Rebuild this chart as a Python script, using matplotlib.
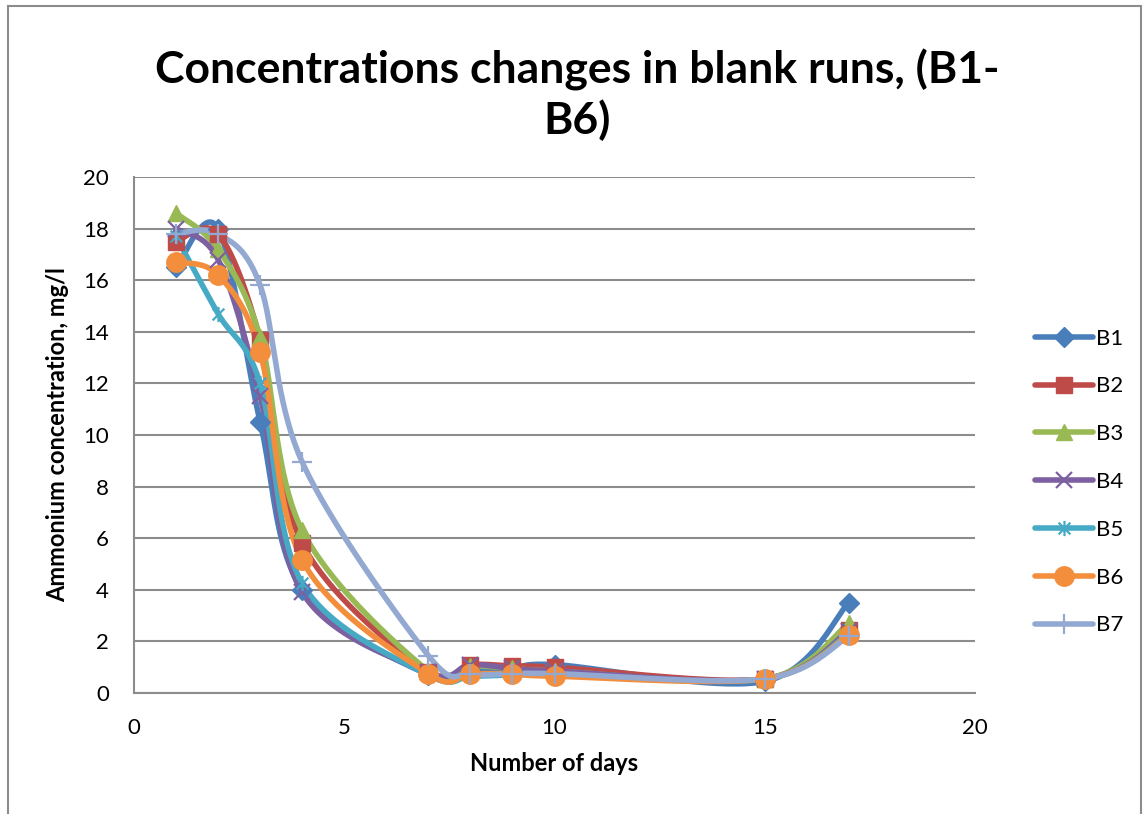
import numpy as np
import matplotlib
matplotlib.use("Agg")
import matplotlib.pyplot as plt
from matplotlib.path import Path
from matplotlib.patches import Rectangle
from matplotlib.lines import Line2D

plt.rcParams['font.family'] = ['Lato', 'DejaVu Sans']

# Sampling days and ammonium concentration (mg/l) for each blank run
days = [1, 2, 3, 4, 7, 8, 9, 10, 15, 17]
B1 = [16.5, 18.0, 10.5, 4.0, 0.7, 0.9, 0.9, 1.1, 0.45, 3.5]
B2 = [17.5, 17.8, 13.7, 5.8, 0.8, 1.1, 1.05, 1.0, 0.55, 2.45]
B3 = [18.6, 17.2, 13.8, 6.3, 0.85, 1.05, 0.95, 0.85, 0.55, 2.7]
B4 = [18.0, 16.8, 11.5, 3.9, 0.8, 1.1, 0.95, 0.85, 0.55, 2.4]
B5 = [17.7, 14.7, 12.0, 4.25, 0.7, 0.65, 0.7, 0.7, 0.55, 2.3]
B6 = [16.7, 16.2, 13.2, 5.15, 0.75, 0.75, 0.75, 0.65, 0.55, 2.25]
B7 = [17.8, 17.8, 15.8, 8.95, 1.45, 0.75, 0.75, 0.75, 0.55, 2.2]

series_names = ['B1', 'B2', 'B3', 'B4', 'B5', 'B6', 'B7']
series_values = [B1, B2, B3, B4, B5, B6, B7]

x_ticks = [0, 5, 10, 15, 20]
y_ticks = [0, 2, 4, 6, 8, 10, 12, 14, 16, 18, 20]

colors = ['#4A7EBB', '#BE4B48', '#98B954', '#7D60A0', '#46AAC5', '#F38E3D', '#93A9D1']

# asterisk marker: an x with a vertical stroke
star_path = Path([(-1, -1), (1, 1), (-1, 1), (1, -1), (0, -1.3), (0, 1.3)],
                 [Path.MOVETO, Path.LINETO] * 3)
markers = ['D', 's', '^', 'x', star_path, 'o', '+']
msizes = [10, 11, 12, 11, 11, 14, 14]
medge = [None, None, None, 1.6, 1.6, None, 1.6]


def smooth(xs, ys, n=40):
    """Cubic Bezier smoothing through the points (Catmull-Rom style)."""
    p = np.column_stack([xs, ys]).astype(float)
    out = [p[0]]
    m = len(p)
    for i in range(m - 1):
        p0 = p[i - 1] if i > 0 else p[i]
        p1 = p[i]
        p2 = p[i + 1]
        p3 = p[i + 2] if i + 2 < m else p[i + 1]
        c1 = p1 + (p2 - p0) / 6.0
        c2 = p2 - (p3 - p1) / 6.0
        t = np.linspace(0, 1, n)[1:, None]
        seg = ((1 - t) ** 3) * p1 + 3 * ((1 - t) ** 2) * t * c1 \
            + 3 * (1 - t) * t ** 2 * c2 + t ** 3 * p2
        out.extend(seg)
    out = np.array(out)
    return out[:, 0], out[:, 1]


fig = plt.figure(figsize=(11.44, 8.14), dpi=100)
ax = fig.add_axes([134 / 1144, 1 - 693 / 814, (975 - 134) / 1144, (693 - 177) / 814])

# outer chart border
fig.patches.append(Rectangle((8 / 1144, -0.02), 1133 / 1144, 1 - 6 / 814 + 0.02,
                             transform=fig.transFigure, fill=False,
                             edgecolor='#8c8c8c', linewidth=1.5))

handles = []
for name, vals, c, mk, ms, me in zip(series_names, series_values, colors,
                                       markers, msizes, medge):
    sx, sy = smooth(days, vals)
    ax.plot(sx, sy, color=c, linewidth=4, solid_capstyle='round', zorder=2)
    kw = dict(marker=mk, markersize=ms, color=c, linestyle='none', zorder=3)
    if me is not None:
        kw.update(markeredgewidth=me, markeredgecolor=c)
    else:
        kw.update(markeredgecolor=c, markerfacecolor=c)
    ax.plot(days, vals, **kw)
    handles.append(Line2D([], [], color=c, linewidth=4, solid_capstyle='round',
                          marker=mk, markersize=ms,
                          markeredgewidth=me if me else 1.0,
                          markeredgecolor=c, markerfacecolor=c, label=name))

ax.set_xlim(0, 20)
ax.set_ylim(0, 20)
ax.set_xticks(x_ticks)
ax.set_yticks(y_ticks)
ax.tick_params(length=0, labelsize=16)
ax.tick_params(axis='y', pad=18)
ax.tick_params(axis='x', pad=18)
ax.grid(axis='y', color='#8c8c8c', linewidth=1.5)
ax.set_axisbelow(True)
for s in ['top', 'right']:
    ax.spines[s].set_visible(False)
for s in ['left', 'bottom']:
    ax.spines[s].set_color('#8c8c8c')
    ax.spines[s].set_linewidth(1.5)

ax.set_xlabel('Number of days', fontsize=17, fontweight='bold', labelpad=10)
ax.set_ylabel('Ammonium concentration, mg/l', fontsize=17, fontweight='bold', labelpad=10)

fig.text(577 / 1144, 1 - 95 / 814, 'Concentrations changes in blank runs, (B1-\nB6)',
         ha='center', va='center', fontsize=32, fontweight='bold', linespacing=1.25)

fig.legend(handles=handles, loc='center left',
           bbox_to_anchor=(1026 / 1144, 1 - 482 / 814), frameon=False,
           fontsize=16, handlelength=2.6, handletextpad=0.15, labelspacing=1.25,
           borderaxespad=0)

fig.savefig('out.png', dpi=100)
